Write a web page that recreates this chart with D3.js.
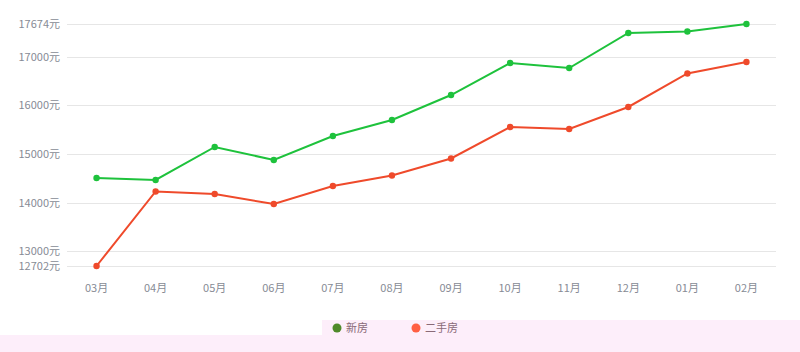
<!DOCTYPE html>
<html>
<head>
<meta charset="utf-8">
<script src="https://cdn.jsdelivr.net/npm/d3@7"></script>
<style>
  body { margin: 0; background: #fff; }
  svg { display: block; font-family: "Microsoft YaHei", "Noto Sans CJK SC", sans-serif; }
</style>
</head>
<body>
<div id="chart"></div>
<script>
// data
var months = ["03月", "04月", "05月", "06月", "07月", "08月", "09月", "10月", "11月", "12月", "01月", "02月"]
var newHouse = [14510, 14470, 15147, 14880, 15373, 15702, 16215, 16873, 16770, 17489, 17520, 17674]
var secondHand = [12702, 14233, 14181, 13976, 14346, 14562, 14911, 15558, 15517, 15969, 16657, 16893]
var yTicks = [12702, 13000, 14000, 15000, 16000, 17000, 17674]
var seriesNames = ["新房", "二手房"]

var width = 800, height = 352
var margin = { top: 24, right: 24, bottom: 86, left: 67 }

var svg = d3.select("#chart").append("svg")
  .attr("width", width)
  .attr("height", height)

// pink legend strip
svg.append("rect").attr("x", 322).attr("y", 320).attr("width", 478).attr("height", 32).attr("fill", "#fdeefa")
svg.append("rect").attr("x", 0).attr("y", 335).attr("width", 800).attr("height", 17).attr("fill", "#fdeefa")

var x = d3.scaleBand()
  .domain(months)
  .range([margin.left, width - margin.right])

var y = d3.scaleLinear()
  .domain([12702, 17674])
  .range([height - margin.bottom, margin.top])

// grid lines
svg.append("g").selectAll("line")
  .data(yTicks)
  .enter().append("line")
    .attr("x1", margin.left)
    .attr("x2", width - margin.right)
    .attr("y1", d => Math.round(y(d)) + 0.5)
    .attr("y2", d => Math.round(y(d)) + 0.5)
    .attr("stroke", "#e6e6e6")
    .attr("stroke-width", 1)

// y labels
svg.append("g").selectAll("text")
  .data(yTicks)
  .enter().append("text")
    .attr("x", 60)
    .attr("y", d => y(d))
    .attr("dy", "0.35em")
    .attr("text-anchor", "end")
    .attr("font-size", 11)
    .attr("fill", "#878b95")
    .text(d => d + "元")

// x labels
svg.append("g").selectAll("text")
  .data(months)
  .enter().append("text")
    .attr("x", d => x(d) + x.bandwidth() / 2)
    .attr("y", 292)
    .attr("text-anchor", "middle")
    .attr("font-size", 11)
    .attr("fill", "#878b95")
    .text(d => d)

var line = d3.line()
  .x((d, i) => x(months[i]) + x.bandwidth() / 2)
  .y(d => y(d))

var series = [
  { name: seriesNames[0], values: newHouse, color: "#1ec23c" },
  { name: seriesNames[1], values: secondHand, color: "#ef4a2b" }
]

series.forEach(s => {
  svg.append("path")
    .datum(s.values)
    .attr("fill", "none")
    .attr("stroke", s.color)
    .attr("stroke-width", 2)
    .attr("d", line)

  svg.append("g").selectAll("circle")
    .data(s.values)
    .enter().append("circle")
      .attr("cx", (d, i) => x(months[i]) + x.bandwidth() / 2)
      .attr("cy", d => y(d))
      .attr("r", 3.2)
      .attr("fill", s.color)
})

// legend
var legendColors = ["#4f8a2a", "#ff5f43"]
var legendX = [337, 416]
var legend = svg.append("g")
seriesNames.forEach((name, i) => {
  legend.append("circle")
    .attr("cx", legendX[i])
    .attr("cy", 328)
    .attr("r", 4.5)
    .attr("fill", legendColors[i])
  legend.append("text")
    .attr("x", legendX[i] + 9)
    .attr("y", 328)
    .attr("dy", "0.35em")
    .attr("font-size", 11)
    .attr("fill", "#8a6a78")
    .text(name)
})
</script>
</body>
</html>
